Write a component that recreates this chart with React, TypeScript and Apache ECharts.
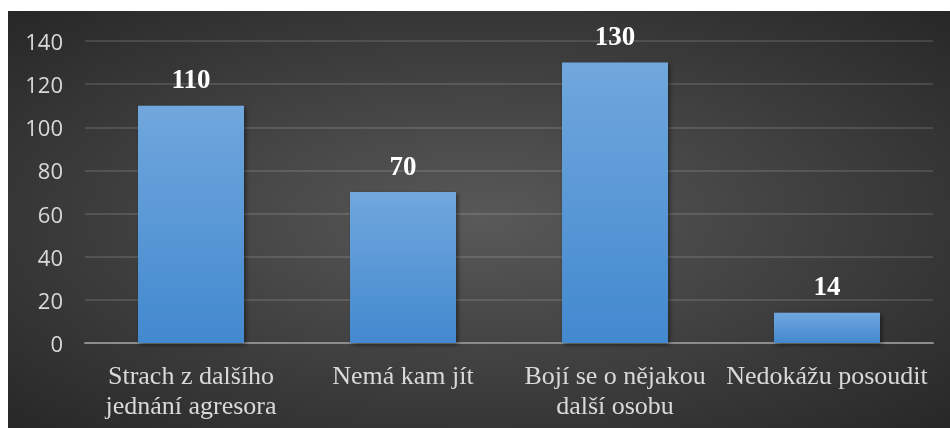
import React, { useEffect, useRef } from "react";
import * as echarts from "echarts";

const categories = ["Strach z dalšího\njednání agresora", "Nemá kam jít", "Bojí se o nějakou\ndalší osobu", "Nedokážu posoudit"];
const values = [110, 70, 130, 14];
const yTicks = [0, 20, 40, 60, 80, 100, 120, 140];

const SERIF = "'Liberation Serif', 'Times New Roman', serif";
const SANS = "'Open Sans', sans-serif";

export default function App() {
  const ref = useRef<HTMLDivElement>(null);
  useEffect(() => {
    if (!ref.current) return;
    const chart = echarts.init(ref.current, null, { renderer: "svg" });
    chart.setOption({
      animation: false,
      backgroundColor: {
        type: "radial",
        x: 0.5,
        y: 0.5,
        r: 0.75,
        colorStops: [
          { offset: 0, color: "#595959" },
          { offset: 1, color: "#242424" },
        ],
      },
      grid: { left: 77, right: 17, top: 30, bottom: 85, containLabel: false },
      xAxis: {
        type: "category",
        data: categories,
        axisLine: { lineStyle: { color: "#8c8c8c", width: 2 } },
        axisTick: { show: false },
        axisLabel: {
          color: "#d9d9d9",
          fontFamily: SERIF,
          fontSize: 26,
          lineHeight: 30,
          margin: 17,
          interval: 0,
        },
      },
      yAxis: {
        type: "value",
        min: yTicks[0],
        max: yTicks[yTicks.length - 1],
        interval: 20,
        axisLine: { show: false },
        axisTick: { show: false },
        axisLabel: {
          color: "#d9d9d9",
          fontFamily: SANS,
          fontSize: 22,
          margin: 22,
        },
        splitLine: { lineStyle: { color: "rgba(255,255,255,0.12)", width: 2 } },
      },
      series: [
        {
          type: "bar",
          data: values,
          barWidth: "50%",
          itemStyle: {
            color: {
              type: "linear",
              x: 0,
              y: 0,
              x2: 0,
              y2: 1,
              colorStops: [
                { offset: 0, color: "#70a7dd" },
                { offset: 1, color: "#4389cf" },
              ],
            },
            shadowBlur: 4,
            shadowColor: "rgba(0,0,0,0.45)",
            shadowOffsetX: 2,
            shadowOffsetY: 2,
          },
          label: {
            show: true,
            position: "top",
            distance: 13,
            color: "#ffffff",
            fontFamily: SERIF,
            fontWeight: "bold",
            fontSize: 27,
          },
        },
      ],
    });
    return () => chart.dispose();
  }, []);
  return (
    <div
      ref={ref}
      style={{ position: "fixed", left: 8, top: 11, width: 942, height: 417 }}
    />
  );
}
